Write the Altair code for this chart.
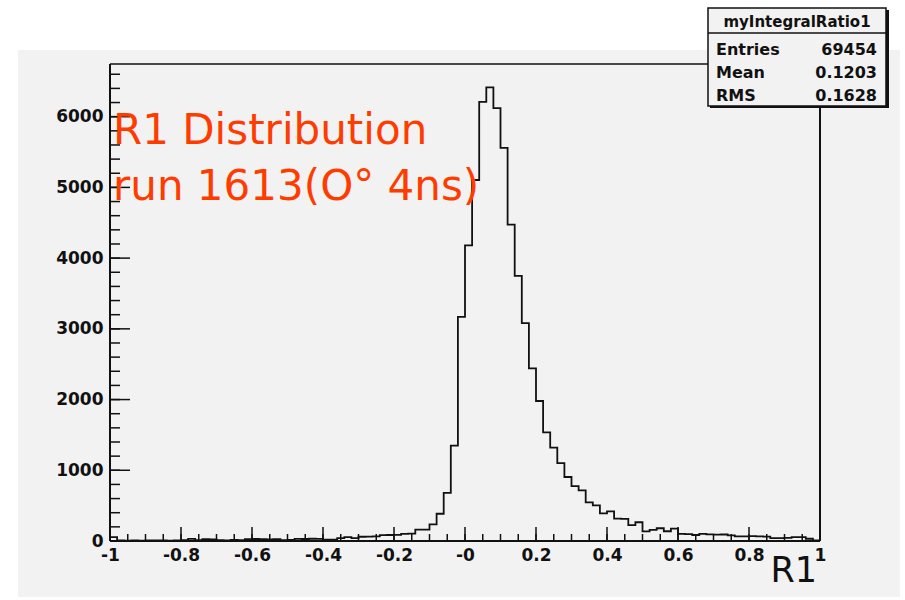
import altair as alt
import numpy as np
import pandas as pd

# ---- data (100 bins of width 0.02 from -1 to 1) ----
counts = [
    55, 8, 5, 10, 6, 8, 7, 9, 6, 10,          # -1.00 .. -0.82
    12, 30, 12, 25, 22, 12, 10, 14, 12, 25,   # -0.80 .. -0.62
    28, 26, 24, 27, 12, 14, 30, 28, 32, 30,   # -0.60 .. -0.42
    18, 20, 40, 55, 40, 60, 62, 64, 82, 85,   # -0.40 .. -0.22
    88, 100, 105, 160, 162, 235, 385, 680, 1350, 3170,  # -0.20 .. -0.02
    4180, 5105, 6210, 6415, 6120, 5560, 4475, 3750, 3080, 2440,  # 0.00 .. 0.18
    1980, 1535, 1320, 1100, 905, 775, 715, 545, 505, 392,  # 0.20 .. 0.38
    418, 315, 312, 225, 265, 135, 158, 180, 138, 175,      # 0.40 .. 0.58
    100, 98, 85, 100, 95, 90, 92, 80, 66, 65,              # 0.60 .. 0.78
    68, 64, 62, 42, 40, 44, 56, 55, 32, 10,                # 0.80 .. 0.98
]
edges = [round(v, 4) for v in np.linspace(-1, 1, 101)]

x_major = [-1, -0.8, -0.6, -0.4, -0.2, 0, 0.2, 0.4, 0.6, 0.8, 1]
x_minor = [round(v, 3) for v in np.arange(-1, 1.0001, 0.05)]
y_major = [0, 1000, 2000, 3000, 4000, 5000, 6000]
y_minor = list(range(0, 6700, 200))

stat_title = "myIntegralRatio1"
stat_labels = ["Entries", "Mean", "RMS"]
stat_values = ["69454", "0.1203", "0.1628"]
title_lines = ["R1 Distribution", "run 1613(O\u00b0 4ns)"]
x_title = "R1"

# ---- layout ----
W, H = 710, 477
PAD = {"left": 110, "top": 64, "right": 905 - 110 - W, "bottom": 600 - 64 - H}
INK = "#111111"
RED = "#ff3c00"
GREY = "#f2f2f2"
FONT = "DejaVu Sans"

xs = alt.Scale(domain=[-1, 1], nice=False, zero=False)
ys = alt.Scale(domain=[0, 6745], nice=False, zero=True)

one = pd.DataFrame({"k": [0]})

pad_rect = alt.Chart(one).mark_rect(color=GREY).encode(
    x=alt.value(-92), x2=alt.value(790), y=alt.value(-14), y2=alt.value(533)
)

hist_df = pd.DataFrame({"R1": edges, "n": counts + [counts[-1]]})
hist = alt.Chart(hist_df).mark_line(
    interpolate="step-after", color=INK, strokeWidth=1.8
).encode(
    x=alt.X("R1:Q", scale=xs, axis=alt.Axis(
        values=x_major, ticks=False, domain=False, grid=False, title=None, zindex=2,
        labelFont=FONT, labelFontSize=17, labelFontWeight="bold", labelColor=INK,
        labelPadding=6, labelFlush=False, labelOverlap=False,
        labelExpr="datum.value == 0 ? '-0' : (datum.value < 0 ? '-' + format(-datum.value, '.1~f') : format(datum.value, '.1~f'))",
    )),
    y=alt.Y("n:Q", scale=ys, axis=alt.Axis(
        values=y_major, ticks=False, domain=False, grid=False, title=None, zindex=2,
        format="d", labelFont=FONT, labelFontSize=17, labelFontWeight="bold",
        labelColor=INK, labelPadding=7, labelFlush=False, labelOverlap=False,
    )),
)

# frame
frame = [
    alt.Chart(one).mark_rule(color=INK, strokeWidth=2).encode(x=alt.value(0), y=alt.value(0), y2=alt.value(H)),
    alt.Chart(one).mark_rule(color=INK, strokeWidth=2).encode(x=alt.value(W), y=alt.value(0), y2=alt.value(H)),
    alt.Chart(one).mark_rule(color=INK, strokeWidth=1.5).encode(x=alt.value(0), x2=alt.value(W), y=alt.value(0)),
    alt.Chart(one).mark_rule(color=INK, strokeWidth=2).encode(x=alt.value(0), x2=alt.value(W), y=alt.value(H)),
]

# inward ticks
xmaj = alt.Chart(pd.DataFrame({"t": x_major})).mark_rule(color=INK, strokeWidth=1.5).encode(
    x=alt.X("t:Q", scale=xs), y=alt.value(H), y2=alt.value(H - 14))
xmin = alt.Chart(pd.DataFrame({"t": x_minor})).mark_rule(color=INK, strokeWidth=1.5).encode(
    x=alt.X("t:Q", scale=xs), y=alt.value(H), y2=alt.value(H - 7))
ymaj = alt.Chart(pd.DataFrame({"t": y_major})).mark_rule(color=INK, strokeWidth=1.5).encode(
    y=alt.Y("t:Q", scale=ys), x=alt.value(0), x2=alt.value(20))
ymin = alt.Chart(pd.DataFrame({"t": y_minor})).mark_rule(color=INK, strokeWidth=1.5).encode(
    y=alt.Y("t:Q", scale=ys), x=alt.value(0), x2=alt.value(10))

# red annotation
red_layers = []
for i, line in enumerate(title_lines):
    red_layers.append(
        alt.Chart(pd.DataFrame({"s": [line]})).mark_text(
            align="left", baseline="alphabetic", font=FONT, fontSize=42, color=RED
        ).encode(text="s:N", x=alt.value(3), y=alt.value(80 + 56 * i))
    )

xtitle = alt.Chart(pd.DataFrame({"s": [x_title]})).mark_text(
    align="right", baseline="alphabetic", font=FONT, fontSize=35, color=INK
).encode(text="s:N", x=alt.value(W - 3), y=alt.value(518))

# stat box
box_shadow = alt.Chart(one).mark_rect(color=INK).encode(
    x=alt.value(600), x2=alt.value(779), y=alt.value(-54), y2=alt.value(44))
box = alt.Chart(one).mark_rect(fill=GREY, stroke=INK, strokeWidth=1.5).encode(
    x=alt.value(598), x2=alt.value(776), y=alt.value(-56), y2=alt.value(42))
box_line = alt.Chart(one).mark_rule(color=INK, strokeWidth=1.5).encode(
    x=alt.value(598), x2=alt.value(776), y=alt.value(-31))
box_title = alt.Chart(pd.DataFrame({"s": [stat_title]})).mark_text(
    align="center", baseline="alphabetic", font=FONT, fontSize=15, fontWeight="bold", color=INK
).encode(text="s:N", x=alt.value(687), y=alt.value(-37))
stat_layers = []
for i, (lab, val) in enumerate(zip(stat_labels, stat_values)):
    yy = -9 + 23 * i
    stat_layers.append(alt.Chart(pd.DataFrame({"s": [lab]})).mark_text(
        align="left", baseline="alphabetic", font=FONT, fontSize=16, fontWeight="bold", color=INK
    ).encode(text="s:N", x=alt.value(606), y=alt.value(yy)))
    stat_layers.append(alt.Chart(pd.DataFrame({"s": [val]})).mark_text(
        align="right", baseline="alphabetic", font=FONT, fontSize=16, fontWeight="bold", color=INK
    ).encode(text="s:N", x=alt.value(767), y=alt.value(yy)))

chart = alt.layer(
    pad_rect, *frame, xmaj, xmin, ymaj, ymin, hist, *red_layers, xtitle,
    box_shadow, box, box_line, box_title, *stat_layers,
).properties(
    width=W, height=H, padding=PAD, autosize=alt.AutoSizeParams(type="none"),
    background="white",
).configure_view(stroke=None)

chart.save("out.html", embed_options={"renderer": "svg", "actions": False})
